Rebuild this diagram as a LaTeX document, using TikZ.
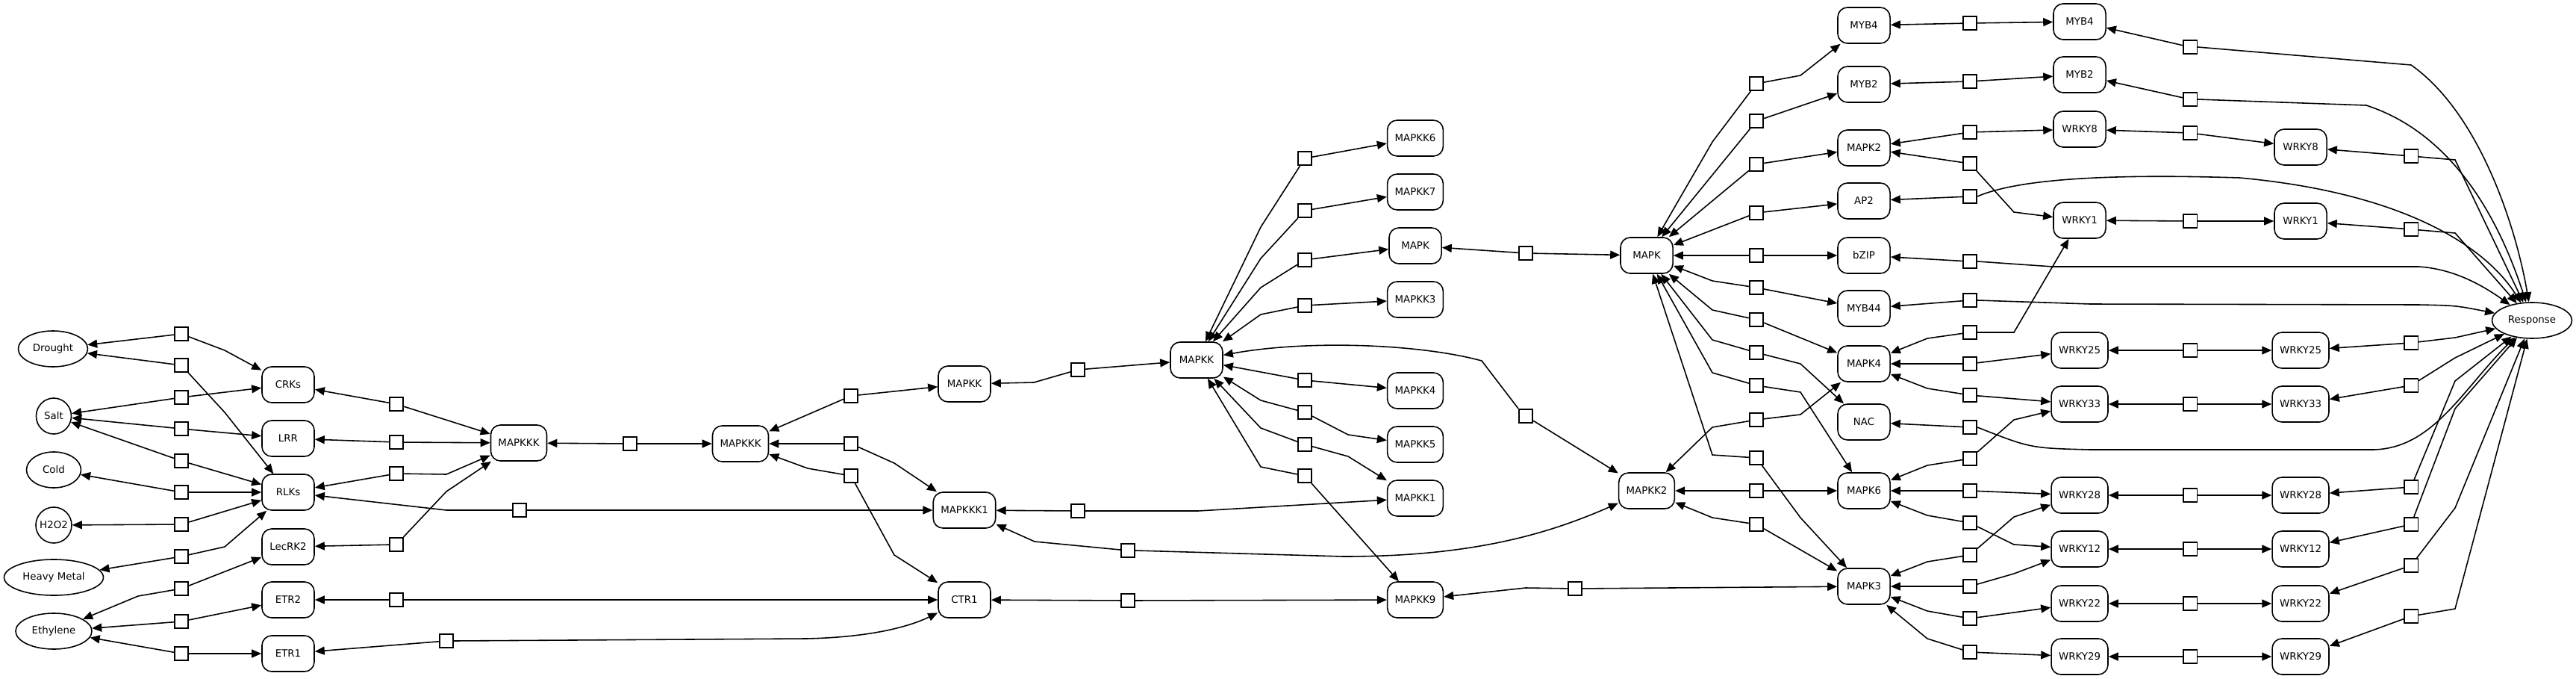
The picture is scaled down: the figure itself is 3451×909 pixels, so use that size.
\documentclass[tikz,border=0pt]{standalone}
\usepackage{fontspec}
\setmainfont{DejaVu Sans}
\usetikzlibrary{arrows.meta, shapes.geometric}

\begin{document}
\begin{tikzpicture}[
    x=0.01cm, y=-0.01cm,
    >={Triangle[length=0.13cm, width=0.11cm]},
    gene/.style={
        draw, rounded corners=0.13cm, minimum width=0.7cm, minimum height=0.48cm,
        inner xsep=0.1cm, font=\fontsize{3.8}{4.6}\selectfont, line width=0.45pt
    },
    cue/.style={
        draw, ellipse, minimum height=0.48cm, inner sep=0pt,
        font=\fontsize{3.8}{4.6}\selectfont, line width=0.45pt
    },
    rxn/.style={
        draw, fill=white, minimum size=0.185cm, inner sep=0pt, line width=0.45pt
    },
    link/.style={->, line width=0.45pt},
    via/.style={to path={-- (#1) -- (\tikztotarget)}},
]
\useasboundingbox (0,0) rectangle (3451,909);

% ── Stimuli ──
\node[cue, minimum width=0.93cm] (drought) at (71,467) {Drought};
\node[cue, minimum width=0.47cm] (salt)    at (72,557) {Salt};
\node[cue, minimum width=0.73cm] (cold)    at (72,629) {Cold};
\node[cue, minimum width=0.48cm, inner xsep=-1pt] (hperox) at (72,703) {H2O2};
\node[cue, minimum width=1.33cm] (hmetal)  at (72,773) {Heavy Metal};
\node[cue, minimum width=1.02cm] (ethyl)   at (72,845) {Ethylene};

% ── Receptors ──
\node[gene] (crks)   at (386,515) {CRKs};
\node[gene] (lrr)    at (386,587) {LRR};
\node[gene] (rlks)   at (386,659) {RLKs};
\node[gene] (lecrk2) at (386,732) {LecRK2};
\node[gene] (etr2)   at (386,803) {ETR2};
\node[gene] (etr1)   at (386,875) {ETR1};

% ── Kinase cascade ──
\node[gene] (mapkkk)  at (695,593)  {MAPKKK};
\node[gene] (mapkkkb) at (992,594)  {MAPKKK};
\node[gene] (mapkk)   at (1292,514) {MAPKK};
\node[gene] (mapkkk1) at (1292,683) {MAPKKK1};
\node[gene] (ctr1)    at (1292,803) {CTR1};
\node[gene] (mapkkb)  at (1603,482) {MAPKK};

\node[gene] (mapkk6) at (1896,185) {MAPKK6};
\node[gene] (mapkk7) at (1896,257) {MAPKK7};
\node[gene] (mapk)   at (1896,329) {MAPK};
\node[gene] (mapkk3) at (1896,401) {MAPKK3};
\node[gene] (mapkk4) at (1896,523) {MAPKK4};
\node[gene] (mapkk5) at (1896,595) {MAPKK5};
\node[gene] (mapkk1) at (1896,667) {MAPKK1};
\node[gene] (mapkk9) at (1896,803) {MAPKK9};

\node[gene] (mapkb)  at (2206,342) {MAPK};
\node[gene] (mapkk2) at (2206,657) {MAPKK2};

% ── MAPKs and transcription factors ──
\node[gene] (myb4)  at (2497,34)  {MYB4};
\node[gene] (myb2)  at (2497,113) {MYB2};
\node[gene] (mapk2) at (2497,198) {MAPK2};
\node[gene] (ap2)   at (2497,269) {AP2};
\node[gene] (bzip)  at (2497,342) {bZIP};
\node[gene] (myb44) at (2497,413) {MYB44};
\node[gene] (mapk4) at (2497,487) {MAPK4};
\node[gene] (nac)   at (2497,565) {NAC};
\node[gene] (mapk6) at (2497,657) {MAPK6};
\node[gene] (mapk3) at (2497,785) {MAPK3};

\node[gene] (myb4b)  at (2786,29)  {MYB4};
\node[gene] (myb2b)  at (2786,100) {MYB2};
\node[gene] (wrky8)  at (2786,173) {WRKY8};
\node[gene] (wrky1)  at (2786,295) {WRKY1};
\node[gene] (wrky25) at (2786,469) {WRKY25};
\node[gene] (wrky33) at (2786,541) {WRKY33};
\node[gene] (wrky28) at (2786,663) {WRKY28};
\node[gene] (wrky12) at (2786,735) {WRKY12};
\node[gene] (wrky22) at (2786,808) {WRKY22};
\node[gene] (wrky29) at (2786,879) {WRKY29};

\node[gene] (wrky8b)  at (3082,197) {WRKY8};
\node[gene] (wrky1b)  at (3082,296) {WRKY1};
\node[gene] (wrky25b) at (3082,469) {WRKY25};
\node[gene] (wrky33b) at (3082,541) {WRKY33};
\node[gene] (wrky28b) at (3082,663) {WRKY28};
\node[gene] (wrky12b) at (3082,735) {WRKY12};
\node[gene] (wrky22b) at (3082,808) {WRKY22};
\node[gene] (wrky29b) at (3082,879) {WRKY29};

\node[cue, minimum width=1.07cm] (resp) at (3392,429) {Response};

% ── Stimulus -> receptor steps ──
\node[rxn] (dr-crk) at (243,447) {};
\node[rxn] (dr-rlk) at (243,489) {};
\node[rxn] (sa-crk) at (243,532) {};
\node[rxn] (sa-lrr) at (243,574) {};
\node[rxn] (sa-rlk) at (243,617) {};
\node[rxn] (co-rlk) at (243,659) {};
\node[rxn] (hp-rlk) at (243,702) {};
\node[rxn] (hm-rlk) at (243,745) {};
\node[rxn] (et-lec) at (243,788) {};
\node[rxn] (et-e2)  at (243,832) {};
\node[rxn] (et-e1)  at (243,875) {};

\path[link] (dr-crk) edge (drought) edge[via={301,469}] (crks);
\path[link] (dr-rlk) edge (drought) edge[via={301,552}] (rlks);
\path[link] (sa-crk) edge (salt) edge (crks);
\path[link] (sa-lrr) edge (salt) edge (lrr);
\path[link] (sa-rlk) edge (salt) edge (rlks);
\path[link] (co-rlk) edge (cold) edge (rlks);
\path[link] (hp-rlk) edge (hperox) edge (rlks);
\path[link] (hm-rlk) edge (hmetal) edge[via={301,732}] (rlks);
\path[link] (et-lec) edge[via={185,798}] (ethyl) edge (lecrk2);
\path[link] (et-e2)  edge (ethyl) edge (etr2);
\path[link] (et-e1)  edge (ethyl) edge (etr1);

% ── Receptor -> MAPKKK steps ──
\node[rxn] (crk-k3)  at (531,541) {};
\node[rxn] (lrr-k3)  at (531,592) {};
\node[rxn] (rlk-k3)  at (531,634) {};
\node[rxn] (lec-k3)  at (531,729) {};
\node[rxn] (e2-ctr)  at (531,803) {};
\node[rxn] (rlk-k31) at (696,683) {};
\node[rxn] (e1-ctr)  at (598,858) {};
\node[rxn] (k3-k3b)  at (844,594) {};

\path[link] (crk-k3) edge (crks) edge (mapkkk);
\path[link] (lrr-k3) edge (lrr) edge (mapkkk);
\path[link] (rlk-k3) edge (rlks) edge[via={598,635}] (mapkkk);
\path[link] (lec-k3) edge (lecrk2) edge[via={598,658}] (mapkkk);
\path[link] (e2-ctr) edge (etr2) edge (ctr1);
\path[link] (rlk-k31) edge[via={598,683}] (rlks) edge (mapkkk1);
\path[link] (k3-k3b) edge (mapkkk) edge (mapkkkb);
\draw[link] (e1-ctr) -- (etr1);
\draw[link] (e1-ctr.east) -- (1080,855) .. controls (1170,853) and (1220,838) .. (ctr1);

% ── MAPKKK -> MAPKK steps ──
\node[rxn] (k3b-k2)  at (1140,530) {};
\node[rxn] (k3b-k31) at (1140,594) {};
\node[rxn] (k3b-ctr) at (1140,637) {};
\node[rxn] (k2-k2b)  at (1444,495) {};
\node[rxn] (k31-kk1) at (1444,684) {};
\node[rxn] (k31-kk2) at (1511,737) {};
\node[rxn] (ctr-kk9) at (1511,804) {};

\path[link] (k3b-k2)  edge (mapkkkb) edge (mapkk);
\path[link] (k3b-k31) edge (mapkkkb) edge[via={1198,620}] (mapkkk1);
\path[link] (k3b-ctr) edge[via={1082,627}] (mapkkkb) edge[via={1198,743}] (ctr1);
\path[link] (k2-k2b)  edge[via={1385,512}] (mapkk) edge (mapkkb);
\path[link] (k31-kk1) edge (mapkkk1) edge[via={1605,684}] (mapkk1);
\path[link] (ctr-kk9) edge (ctr1) edge (mapkk9);
\draw[link] (k31-kk2) -- (1386,725) -- (mapkkk1);
\draw[link] (k31-kk2.east) -- (1800,745) .. controls (1980,745) and (2080,712) .. (mapkk2);

% ── MAPKK fan ──
\node[rxn] (kk-6)  at (1748,212) {};
\node[rxn] (kk-7)  at (1748,282) {};
\node[rxn] (kk-mk) at (1748,348) {};
\node[rxn] (kk-3)  at (1748,409) {};
\node[rxn] (kk-4)  at (1748,509) {};
\node[rxn] (kk-5)  at (1748,552) {};
\node[rxn] (kk-1)  at (1748,595) {};
\node[rxn] (kk-9)  at (1748,637) {};

\path[link] (kk-6)  edge[via={1689,304}] (mapkkb) edge (mapkk6);
\path[link] (kk-7)  edge[via={1689,346}] (mapkkb) edge (mapkk7);
\path[link] (kk-mk) edge[via={1689,385}] (mapkkb) edge (mapk);
\path[link] (kk-3)  edge[via={1689,421}] (mapkkb) edge (mapkk3);
\path[link] (kk-4)  edge (mapkkb) edge (mapkk4);
\path[link] (kk-5)  edge[via={1689,536}] (mapkkb) edge[via={1806,582}] (mapkk5);
\path[link] (kk-1)  edge[via={1689,573}] (mapkkb) edge[via={1806,611}] (mapkk1);
\path[link] (kk-9)  edge[via={1689,625}] (mapkkb) edge (mapkk9);

\node[rxn] (mk-mk)   at (2044,339) {};
\node[rxn] (kk-kk2)  at (2044,557) {};
\node[rxn] (kk9-mk3) at (2110,788) {};

\path[link] (mk-mk) edge (mapk) edge (mapkb);
\path[link] (kk9-mk3) edge[via={2044,787}] (mapkk9) edge (mapk3);
\draw[link] (kk-kk2) -- (mapkk2);
\draw[link] (kk-kk2.north west) -- (1985,483) .. controls (1900,460) and (1750,455) .. (mapkkb);

% ── MAPK -> targets ──
\node[rxn] (mk-myb4)  at (2353,112) {};
\node[rxn] (mk-myb2)  at (2353,162) {};
\node[rxn] (mk-mk2)   at (2353,220) {};
\node[rxn] (mk-ap2)   at (2353,285) {};
\node[rxn] (mk-bzip)  at (2353,342) {};
\node[rxn] (mk-myb44) at (2353,385) {};
\node[rxn] (mk-mk4)   at (2353,428) {};
\node[rxn] (mk-nac)   at (2353,472) {};
\node[rxn] (mk-mk6)   at (2353,516) {};
\node[rxn] (kk2-mk4)  at (2353,562) {};
\node[rxn] (mk-mk3)   at (2353,613) {};
\node[rxn] (kk2-mk6)  at (2353,657) {};
\node[rxn] (kk2-mk3)  at (2353,702) {};

\path[link] (mk-myb4)  edge[via={2294,190}] (mapkb) edge[via={2412,101}] (myb4);
\path[link] (mk-myb2)  edge (mapkb) edge (myb2);
\path[link] (mk-mk2)   edge (mapkb) edge (mapk2);
\path[link] (mk-ap2)   edge (mapkb) edge (ap2);
\path[link] (mk-bzip)  edge (mapkb) edge (bzip);
\path[link] (mk-myb44) edge[via={2294,376}] (mapkb) edge (myb44);
\path[link] (mk-mk4)   edge[via={2294,415}] (mapkb) edge (mapk4);
\path[link] (mk-nac)   edge[via={2294,455}] (mapkb) edge[via={2412,487}] (nac);
\path[link] (mk-mk6)   edge[via={2294,499}] (mapkb) edge[via={2412,525}] (mapk6);
\path[link] (kk2-mk4)  edge[via={2294,572}] (mapkk2) edge[via={2412,555}] (mapk4);
\path[link] (mk-mk3)   edge[via={2294,609}] (mapkb) edge[via={2412,693}] (mapk3);
\path[link] (kk2-mk6)  edge (mapkk2) edge (mapk6);
\path[link] (kk2-mk3)  edge[via={2294,693}] (mapkk2) edge (mapk3);

% ── Targets -> WRKY / MYB ──
\node[rxn] (myb4-myb4) at (2639,31)  {};
\node[rxn] (myb2-myb2) at (2639,109) {};
\node[rxn] (mk2-w8)    at (2639,177) {};
\node[rxn] (mk2-w1)    at (2639,219) {};
\node[rxn] (ap2-re)    at (2639,263) {};
\node[rxn] (bzip-re)   at (2639,350) {};
\node[rxn] (myb44-re)  at (2639,402) {};
\node[rxn] (mk4-w1)    at (2639,445) {};
\node[rxn] (mk4-w25)   at (2639,487) {};
\node[rxn] (mk4-w33)   at (2639,529) {};
\node[rxn] (nac-re)    at (2639,572) {};
\node[rxn] (mk6-w33)   at (2639,614) {};
\node[rxn] (mk6-w28)   at (2639,657) {};
\node[rxn] (mk6-w12)   at (2639,700) {};
\node[rxn] (mk3-w28)   at (2639,743) {};
\node[rxn] (mk3-w12)   at (2639,785) {};
\node[rxn] (mk3-w22)   at (2639,828) {};
\node[rxn] (mk3-w29)   at (2639,873) {};

\path[link] (myb4-myb4) edge (myb4) edge (myb4b);
\path[link] (myb2-myb2) edge (myb2) edge (myb2b);
\path[link] (mk2-w8)  edge (mapk2) edge (wrky8);
\path[link] (mk2-w1)  edge (mapk2) edge[via={2698,284}] (wrky1);
\path[link] (mk4-w1)  edge[via={2582,453}] (mapk4) edge[via={2698,445}] (wrky1);
\path[link] (mk4-w25) edge (mapk4) edge (wrky25);
\path[link] (mk4-w33) edge[via={2582,520}] (mapk4) edge (wrky33);
\path[link] (mk6-w33) edge[via={2582,623}] (mapk6) edge[via={2698,562}] (wrky33);
\path[link] (mk6-w28) edge (mapk6) edge (wrky28);
\path[link] (mk6-w12) edge[via={2582,690}] (mapk6) edge[via={2698,729}] (wrky12);
\path[link] (mk3-w28) edge[via={2582,752}] (mapk3) edge[via={2698,692}] (wrky28);
\path[link] (mk3-w12) edge (mapk3) edge[via={2698,768}] (wrky12);
\path[link] (mk3-w22) edge[via={2582,818}] (mapk3) edge (wrky22);
\path[link] (mk3-w29) edge[via={2582,855}] (mapk3) edge (wrky29);

\draw[link] (ap2-re) -- (ap2);
\draw[link] (ap2-re.east) .. controls (2720,232) and (2900,235) .. (3000,238)
    .. controls (3220,258) and (3330,330) .. (resp);
\draw[link] (bzip-re) -- (bzip);
\draw[link] (bzip-re.east) -- (2750,357) -- (3240,357) .. controls (3290,360) and (3330,385) .. (resp);
\draw[link] (myb44-re) -- (myb44);
\draw[link] (myb44-re.east) -- (2800,407) -- (3240,408) .. controls (3290,409) .. (resp);
\draw[link] (nac-re) -- (nac);
\draw[link] (nac-re.east) .. controls (2720,600) .. (2800,602) -- (3180,602)
    .. controls (3260,600) and (3300,520) .. (resp);

% ── WRKY pairs ──
\node[rxn] (myb4-re) at (2934,63)  {};
\node[rxn] (myb2-re) at (2934,133) {};
\node[rxn] (w8-w8)   at (2934,178) {};
\node[rxn] (w1-w1)   at (2934,296) {};
\node[rxn] (w25-w25) at (2934,469) {};
\node[rxn] (w33-w33) at (2934,541) {};
\node[rxn] (w28-w28) at (2934,663) {};
\node[rxn] (w12-w12) at (2934,735) {};
\node[rxn] (w22-w22) at (2934,808) {};
\node[rxn] (w29-w29) at (2934,879) {};

\path[link] (w8-w8)   edge (wrky8) edge (wrky8b);
\path[link] (w1-w1)   edge (wrky1) edge (wrky1b);
\path[link] (w25-w25) edge (wrky25) edge (wrky25b);
\path[link] (w33-w33) edge (wrky33) edge (wrky33b);
\path[link] (w28-w28) edge (wrky28) edge (wrky28b);
\path[link] (w12-w12) edge (wrky12) edge (wrky12b);
\path[link] (w22-w22) edge (wrky22) edge (wrky22b);
\path[link] (w29-w29) edge (wrky29) edge (wrky29b);

\draw[link] (myb4-re) -- (myb4b);
\draw[link] (myb4-re.east) -- (3230,87) .. controls (3320,150) and (3370,300) .. (resp);
\draw[link] (myb2-re) -- (myb2b);
\draw[link] (myb2-re.east) -- (3170,141) .. controls (3290,180) and (3350,300) .. (resp);

% ── Into the response ──
\node[rxn] (w8-re)  at (3230,209) {};
\node[rxn] (w1-re)  at (3230,307) {};
\node[rxn] (w25-re) at (3230,459) {};
\node[rxn] (w33-re) at (3230,516) {};
\node[rxn] (w28-re) at (3230,652) {};
\node[rxn] (w12-re) at (3230,702) {};
\node[rxn] (w22-re) at (3230,757) {};
\node[rxn] (w29-re) at (3230,825) {};

\path[link] (w8-re)  edge (wrky8b)  edge[via={3289,214}] (resp);
\path[link] (w1-re)  edge (wrky1b)  edge[via={3289,312}] (resp);
\path[link] (w25-re) edge (wrky25b) edge[via={3289,452}] (resp);
\path[link] (w33-re) edge (wrky33b) edge[via={3289,479}] (resp);
\path[link] (w28-re) edge (wrky28b) edge[via={3289,510}] (resp);
\path[link] (w12-re) edge (wrky12b) edge[via={3289,547}] (resp);
\path[link] (w22-re) edge (wrky22b) edge[via={3289,680}] (resp);
\path[link] (w29-re) edge (wrky29b) edge[via={3289,815}] (resp);

\end{tikzpicture}
\end{document}
